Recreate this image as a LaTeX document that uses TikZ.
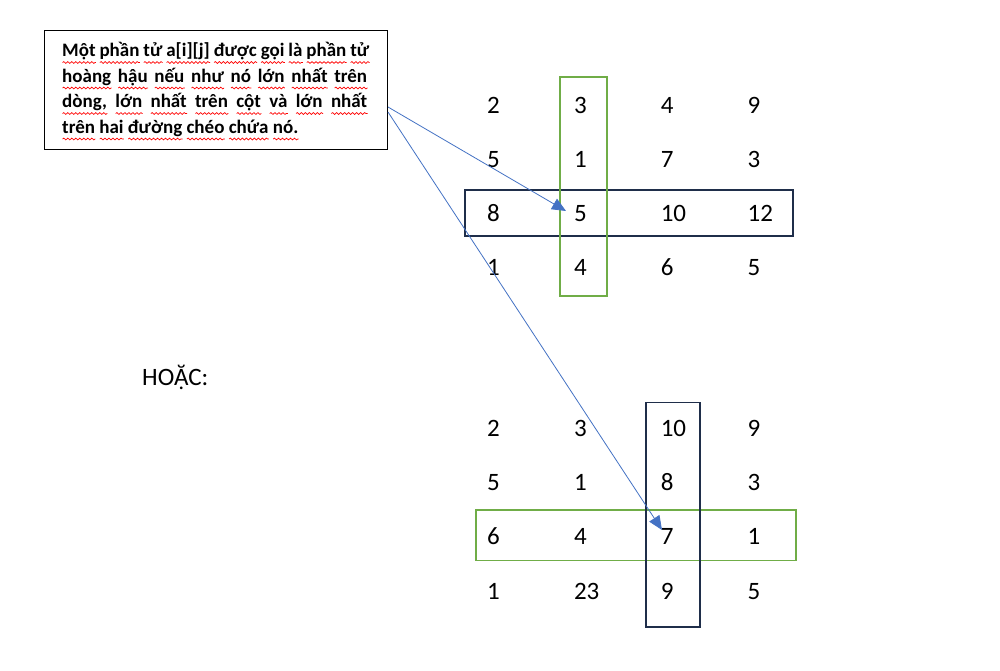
\documentclass[tikz,border=0pt]{standalone}
\usepackage{fontspec}
\setmainfont{Carlito}
\usetikzlibrary{arrows.meta,decorations.pathmorphing}
\definecolor{gbox}{HTML}{70AD47}
\definecolor{nbox}{HTML}{1F2E4A}
\definecolor{arr}{HTML}{4472C4}
\newsavebox\wordbox
\newcommand\rw[1]{\sbox\wordbox{#1}\rlap{\raisebox{-6pt}{\tikz[baseline=0pt,x=1pt,y=1pt]\draw[red,line width=0.7pt,decorate,decoration={snake,amplitude=0.9pt,segment length=4pt}] (0,0) -- (\wd\wordbox,0);}}\usebox\wordbox}
\begin{document}
\begin{tikzpicture}[x=1pt,y=-1pt,
  num/.style={anchor=base west,inner sep=0pt,font=\fontsize{25}{29}\selectfont},
  bline/.style={anchor=base west,inner sep=0pt,font=\bfseries\fontsize{19}{23}\selectfont},
  arrowln/.style={draw=arr,line width=0.8pt,-{Triangle[length=14pt,width=12pt]}},
  gframe/.style={draw=gbox,line width=1.8pt},
  nframe/.style={draw=nbox,line width=1.8pt}]
\useasboundingbox[fill=white] (0,0) rectangle (1000,670);

% text box
\node[draw,line width=0.9pt,minimum width=342.7pt,minimum height=119.3pt,inner sep=0pt,anchor=north west] (box) at (44,30) {};
\node[bline] (l1) at (62,56.5) {\makebox[307pt][s]{\rw{Một} \rw{phần} \rw{tử} \rw{a[i][j]} \rw{được} \rw{gọi} \rw{là} \rw{phần} \rw{tử}}};
\node[bline] (l2) at (62,82) {\makebox[305pt][s]{\rw{hoàng} \rw{hậu} \rw{nếu} \rw{như} \rw{nó} \rw{lớn} \rw{nhất} \rw{trên}}};
\node[bline] (l3) at (62,107.5) {\makebox[305pt][s]{\rw{dòng,} \rw{lớn} \rw{nhất} \rw{trên} \rw{cột} \rw{và} \rw{lớn} \rw{nhất}}};
\node[bline] (l4) at (62,133) {\rw{trên} \rw{hai} \rw{đường} \rw{chéo} \rw{chứa} \rw{nó.}};

% HOẶC
\node[num] (hoac) at (142,385.5) {HOẶC:};

% grid 1
\foreach \v [count=\i from 0] in {2,3,4,9,5,1,7,3,8,5,10,12,1,4,6,5} {
  \pgfmathtruncatemacro\r{div(\i,4)}
  \pgfmathtruncatemacro\c{mod(\i,4)}
  \node[num] (a\r\c) at (487+86.8*\c,113+54.2*\r) {\v};
}
% grid 2
\foreach \v [count=\i from 0] in {2,3,10,9,5,1,8,3,6,4,7,1,1,23,9,5} {
  \pgfmathtruncatemacro\r{div(\i,4)}
  \pgfmathtruncatemacro\c{mod(\i,4)}
  \node[num] (b\r\c) at (487+86.8*\c,436.5+54.2*\r) {\v};
}

% frames
\draw[nframe] (465,190) rectangle (793,236);
\draw[gframe] (560,77) rectangle (607,296);
\draw[gframe] (476,510) rectangle (796,560.5);
\draw[nframe] (646,402.5) rectangle (700,627);

% arrows
\coordinate (s1) at (388,107);
\coordinate (t1) at (566,211);
\coordinate (s2) at (388,112);
\coordinate (t2) at (662,530);
\draw[arrowln] (s1) -- (t1);
\draw[arrowln] (s2) -- (t2);
\end{tikzpicture}
\end{document}
